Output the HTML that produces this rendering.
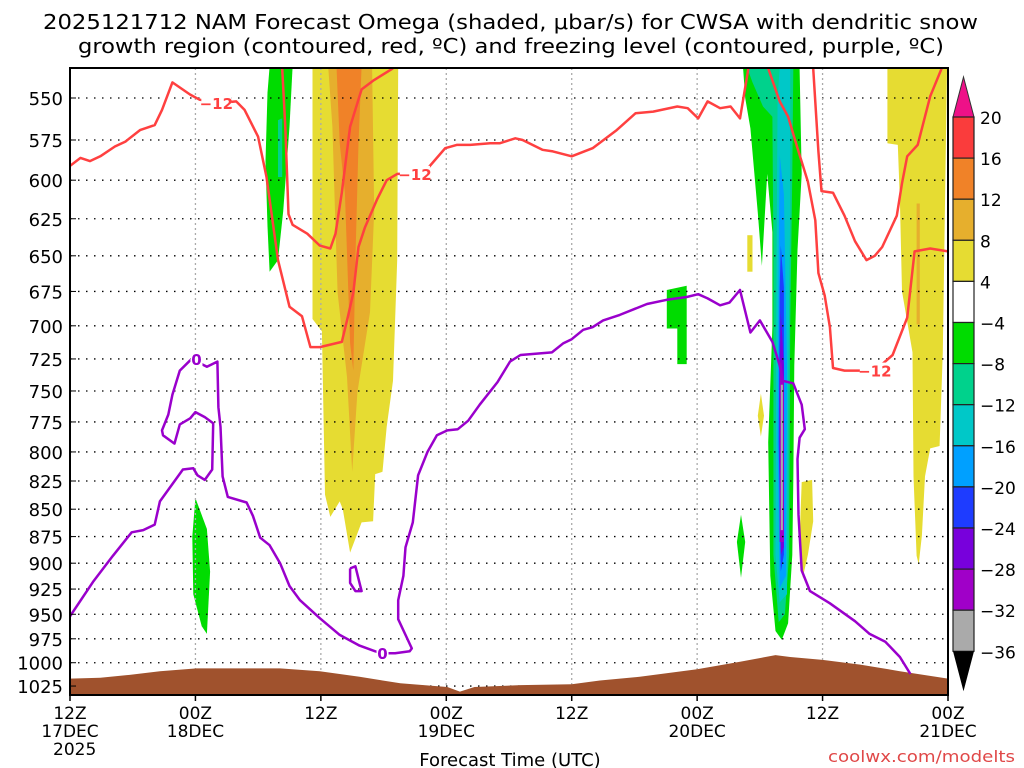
<!DOCTYPE html>
<html><head><meta charset="utf-8"><style>
html,body{margin:0;padding:0;background:#fff;}
svg{display:block;font-family:"DejaVu Sans","Liberation Sans",sans-serif;}
</style></head><body>
<svg id="chart" width="1024" height="768" viewBox="0 0 1024 768" xmlns="http://www.w3.org/2000/svg">
<text x="43" y="29" font-size="20" textLength="935" lengthAdjust="spacingAndGlyphs">2025121712 NAM Forecast Omega (shaded, μbar/s) for CWSA with dendritic snow</text>
<text x="78" y="53" font-size="20" textLength="866" lengthAdjust="spacingAndGlyphs">growth region (contoured, red, ºC) and freezing level (contoured, purple, ºC)</text>
<defs><clipPath id="plotclip"><rect x="70" y="68" width="878" height="627"/></clipPath></defs>
<g id="shade" clip-path="url(#plotclip)"></g>
<g id="grid"></g>
<g id="terrain" clip-path="url(#plotclip)"></g>
<g id="contours" clip-path="url(#plotclip)"></g>
<rect x="70" y="68" width="878" height="627" fill="none" stroke="#000" stroke-width="2"/>
<g id="yticks"></g>
<g id="xticks"></g>
<text x="510" y="766" font-size="18" text-anchor="middle">Forecast Time (UTC)</text>
<text x="828" y="762" font-size="16" fill="#e04848" textLength="187" lengthAdjust="spacingAndGlyphs">coolwx.com/modelts</text>
<g id="cbar"></g>
</svg>
<script>
// ---- data ----
const pTicks=[550,575,600,625,650,675,700,725,750,775,800,825,850,875,900,925,950,975,1000,1025];
const xTickHours=[0,12,24,36,48,60,72,84];
const xTickTop=["12Z","00Z","12Z","00Z","12Z","00Z","12Z","00Z"];
const xTickMid=["17DEC","18DEC","","19DEC","","20DEC","","21DEC"];
const cbLevels=[20,16,12,8,4,-4,-8,-12,-16,-20,-24,-28,-32,-36];
const cbColors=["#fa3c3c","#f08228","#e6af2d","#e6dc32","#ffffff","#00dc00","#00d28c","#00c8c8","#00a0ff","#1e3cff","#7800dc","#a000c8","#aaaaaa"];
const terrainP=[[0,1017],[2.9,1016],[5.7,1013],[8.6,1009],[12.1,1006],[20.1,1006],[23.9,1009],[27.7,1015],[31.6,1022],[36.1,1026],[37.3,1031],[38.7,1026],[43.1,1024],[48,1023],[50.7,1019],[54.5,1015],[60,1007],[64.1,999],[67.5,992],[68.9,994],[72,997],[75.6,1002],[79.4,1009],[84,1017]];
const redA=[[0,591],[1,586],[1.9,588],[2.9,585],[4.3,579],[5.3,576],[6.7,569],[8.1,566],[8.8,557],[9.8,541],[11.5,548],[12.4,551],[14.2,553],[15.9,552],[16.7,557],[18,573],[18.8,598],[19.9,653],[21,686],[22.2,693],[23,716],[23.9,716],[26,712],[26.6,693],[27.1,676],[27.6,644],[28.2,631],[29.4,612],[30.3,600],[31.3,596],[33,596],[34.3,592],[35.9,580],[37,578],[38.3,578],[40.2,577],[41.1,577],[42.6,574],[43.3,575],[45.2,581],[46.2,582],[48,585],[50,580],[52.3,569],[54.1,559],[55.8,558],[58.1,555],[59.1,556],[60.1,562],[61,552],[62.2,556],[63.2,555],[64.1,562],[64.9,533]];
const redB=[[66.8,533],[67.9,552],[68.7,561],[69.6,580],[70.6,601],[71.3,626],[71.6,662],[72.2,678],[72.7,701],[73,732],[74.1,734],[75.4,734],[77,734],[78.7,722],[80.1,694],[80.8,647],[82.3,645],[84,647]];
const redC=[[71.1,533],[71.6,582],[71.9,607],[73,608],[74.1,623],[75.1,640],[76.2,653],[77,650],[77.7,644],[79.1,623],[79.6,602],[80.1,585],[81.1,578],[82.3,549],[83.4,533]];
const redD=[[20.3,533],[20.6,567],[20.9,622],[21.3,629],[22.7,635],[23.9,643],[24.9,645],[25.4,635],[26,608],[26.6,577],[26.8,567],[27.9,545],[29,540],[30.9,533]];
const redLabels=[[14.0,553],[33.0,596],[77.0,734]];
const purpleMain=[[0,952],[2.2,918],[4.1,893],[5.9,871],[7,869],[8.1,864],[8.6,843],[10.8,815],[11.8,814],[12.2,820],[12.9,824],[13.6,815],[13.7,776],[12.9,771],[12,767],[11.5,772],[10.5,777],[10,793],[8.9,786],[8.8,782],[9.4,769],[9.8,753],[10.5,734],[11.5,726],[12.1,725],[12.6,729],[13.1,731],[14.1,727],[14.2,763],[14.4,779],[14.6,821],[15.1,839],[16.9,844],[17.5,856],[18.2,876],[19.1,883],[20.1,900],[21,922],[22,936],[23.9,954],[25.8,971],[27.7,982],[29.2,988],[29.9,990],[31.1,990],[32.5,988],[32.7,985],[32.1,971],[31.4,955],[31.4,936],[31.9,912],[32.1,885],[32.8,862],[33.3,820],[34.2,800],[35.1,786],[36.1,782],[37.1,781],[38.1,774],[39.2,761],[40.9,743],[42.1,727],[43.1,722],[46.1,720],[47.2,713],[48,710],[49.1,703],[50,701],[51,696],[52.6,692],[55.2,684],[57.1,681],[59,679],[60.1,677],[61,680],[62.2,685],[63.1,683],[64.1,674],[65.1,705],[66,696],[67.2,712],[67.9,730],[68.2,742],[69.2,744],[70,761],[70.3,781],[69.8,788],[69.6,806],[69.7,855],[70,907],[70.8,927],[72.7,939],[75.1,957],[76.5,970],[78,978],[79.4,994],[80.4,1012]];
const purpleLoop=[[26.8,905],[27.3,903],[27.6,915],[27.9,927],[27.3,927],[26.8,919],[26.8,910],[26.8,905]];
const purpleLabels=[[12.1,725],[29.9,990]];
// omega areas: value class per polygon
const shadeClasses=[5,5,3,2,1,5,5,5,6,7,8,9,10,11,12,3,3,3,3,6,2];
const shadePolys=[
[[19.1,532],[21.3,532],[21,567],[20.4,620],[19.9,653],[19.1,661],[18.9,630],[18.7,588],[18.9,547]],
[[12,840],[13.1,868],[13.4,908],[13.1,970],[12.6,962],[11.8,930],[11.7,875]],
[[23.2,532],[23.2,695],[24.1,704],[24.4,837],[24.9,857],[25.8,843],[26.1,850],[26.8,890],[27.9,862],[29,861],[29.2,819],[29.9,817],[30.3,779],[30.9,742],[31.3,653],[31.4,532]],
[[24.7,532],[25.1,567],[25.4,631],[25.6,676],[26.5,739],[27,817],[27.5,751],[28.7,690],[29.1,620],[28.9,532]],
[[25.5,532],[25.8,577],[26.3,608],[26.8,713],[27.1,734],[27.3,653],[27.6,577],[27.9,532]],
[[57.1,674],[59,671],[59,729],[58.1,729],[58.1,702],[57.1,702]],
[[64.4,533],[69.8,533],[70,596],[69.6,646],[69.3,730],[69.2,825],[69.1,892],[68.7,959],[68.1,976],[67.5,967],[67.0,912],[66.8,792],[67.2,701],[67.2,634],[66.7,596],[66.2,657],[65.8,621],[65.1,568],[64.6,550]],
[[64.2,855],[64.6,880],[64.2,914],[63.8,880]],
[[64.8,533],[69.2,533],[69.1,596],[68.9,701],[68.8,892],[68.4,950],[67.8,958],[67.3,892],[67.3,646],[67.2,561],[66.3,555],[65.3,541]],
[[67.9,533],[68.9,533],[68.9,620],[68.7,753],[68.6,930],[67.9,938],[67.5,892],[67.6,646],[67.7,550]],
[[67.9,584],[68.3,609],[68.6,730],[68.5,912],[67.9,924],[67.7,792],[67.8,646]],
[[68,643],[68.3,672],[68.3,892],[68.0,908],[67.8,792],[67.9,672]],
[[68,690],[68.3,730],[68.3,885],[68.0,892],[67.9,792],[67.9,730]],
[[68,724],[68.3,745],[68.3,880],[67.9,880],[67.9,745]],
[[68.0,745],[68.2,745],[68.2,869],[68.0,869]],
[[64.8,636],[65.3,636],[65.3,661],[64.8,661]],
[[66.1,752],[66.4,770],[66.1,787],[65.8,770]],
[[70,826],[71,824],[71.1,861],[70.6,892],[70.1,914],[69.8,876]],
[[78.2,533],[83.9,533],[83.5,720],[83.2,795],[82.3,797],[81.8,821],[81.5,874],[81.2,901],[81,893],[80.7,821],[80.6,720],[79.6,675],[79.4,613],[79.2,578],[78.2,577]],
[[19.9,563],[20.3,562],[20.3,598],[19.9,598]],
[[81,615],[81.3,615],[81.3,699],[81,699]]
];
// ---- scales ----
const X0=70,X1=948,HMAX=84;
function xs(h){return X0+h*(X1-X0)/HMAX;}
function ys(p){return 98+944.6*Math.log(p/550);}
const NS="http://www.w3.org/2000/svg";
function mk(tag,attrs,parent){const e=document.createElementNS(NS,tag);for(const k in attrs)e.setAttribute(k,attrs[k]);parent.appendChild(e);return e;}
function pts(a){return a.map(d=>xs(d[0]).toFixed(1)+","+ys(d[1]).toFixed(1)).join(" ");}
const classColor={1:"#f08228",2:"#e6af2d",3:"#e6dc32",5:"#00dc00",6:"#00d28c",7:"#00c8c8",8:"#00a0ff",9:"#1e3cff",10:"#7800dc",11:"#a000c8",12:"#aaaaaa"};
const shade=document.getElementById("shade");
shadePolys.forEach((poly,i)=>{
  const el=mk("polygon",{points:pts(poly),fill:classColor[shadeClasses[i]]},shade);
  
  
});
// grid
const grid=document.getElementById("grid");
pTicks.forEach(p=>{
  const l=mk("line",{x1:X0,x2:X1,y1:ys(p),y2:ys(p),stroke:"#000","stroke-width":1.3,"stroke-dasharray":"1.5,6.5"},grid);
  
  
});
xTickHours.slice(1,-1).forEach(h=>{
  const l=mk("line",{x1:xs(h),x2:xs(h),y1:68,y2:695,stroke:"#aaa","stroke-width":1.3,"stroke-dasharray":"2,3"},grid);
  
  
});
// terrain
const tg=document.getElementById("terrain");
const tp=mk("polygon",{points:pts(terrainP)+" "+xs(84)+",700 "+xs(0)+",700",fill:"#a0522d"},tg);


// contours
const cg=document.getElementById("contours");
[redA,redB,redC,redD].forEach(c=>{
  const l=mk("polyline",{points:pts(c),fill:"none",stroke:"#ff4040","stroke-width":2.5,"stroke-linejoin":"round"},cg);
  
  
});
[purpleMain,purpleLoop].forEach(c=>{
  const l=mk("polyline",{points:pts(c),fill:"none",stroke:"#9a00cc","stroke-width":2.5,"stroke-linejoin":"round"},cg);
  
  
});
redLabels.forEach(d=>{
  const r=mk("rect",{x:xs(d[0])-15,y:ys(d[1])-8,width:30,height:16,fill:"#fff"},cg);
  
  
  const t=mk("text",{x:xs(d[0]),y:ys(d[1])+6,"text-anchor":"middle","font-size":15,"font-weight":"bold",fill:"#ff4040"},cg);
  t.textContent="−12";
  
  
});
purpleLabels.forEach(d=>{
  const r=mk("rect",{x:xs(d[0])-6,y:ys(d[1])-8,width:12,height:16,fill:"#fff"},cg);
  
  
  const t=mk("text",{x:xs(d[0]),y:ys(d[1])+6,"text-anchor":"middle","font-size":15,"font-weight":"bold",fill:"#9a00cc"},cg);
  t.textContent="0";
  
  
});
// y ticks
const yt=document.getElementById("yticks");
pTicks.forEach(p=>{
  const t=mk("text",{x:63,y:ys(p)+7,"text-anchor":"end","font-size":18},yt);
  t.textContent=p;
  
  
  const k=mk("line",{x1:70,x2:76,y1:ys(p),y2:ys(p),stroke:"#000","stroke-width":1},yt);
  
  
});
// x ticks
const xt=document.getElementById("xticks");
xTickHours.forEach((h,i)=>{
  const t=mk("text",{x:xs(h),y:719,"text-anchor":"middle","font-size":17},xt);
  t.textContent=xTickTop[i];
  
  
  if(xTickMid[i]){
    const t2=mk("text",{x:xs(h),y:737,"text-anchor":"middle","font-size":17},xt);
    t2.textContent=xTickMid[i];
    
    
  }
  const k=mk("line",{x1:xs(h),x2:xs(h),y1:695,y2:701,stroke:"#000","stroke-width":1.5},xt);
  
  
});
const yr=mk("text",{x:53,y:755,"font-size":17},xt);
yr.textContent="2025";


// colorbar
const cb=document.getElementById("cbar");
const cbTop=117,cbStep=41.1,cbX=953,cbW=21;
const tri1=mk("polygon",{points:`${cbX},${cbTop} ${cbX+cbW},${cbTop} ${cbX+cbW/2},${cbTop-40}`,fill:"#ee1188",stroke:"#333","stroke-width":1},cb);


cbColors.forEach((c,i)=>{
  const r=mk("rect",{x:cbX,y:cbTop+i*cbStep,width:cbW,height:cbStep,fill:c,stroke:"#222","stroke-width":1.2},cb);
  
  
});
const yb=cbTop+cbColors.length*cbStep;
const tri2=mk("polygon",{points:`${cbX},${yb} ${cbX+cbW},${yb} ${cbX+cbW/2},${yb+40}`,fill:"#000"},cb);


cbLevels.forEach((v,i)=>{
  const t=mk("text",{x:980,y:cbTop+i*cbStep+7,"font-size":17},cb);
  t.textContent=(v<0?"−"+(-v):String(v));
  
  
});
</script>
</body></html>
